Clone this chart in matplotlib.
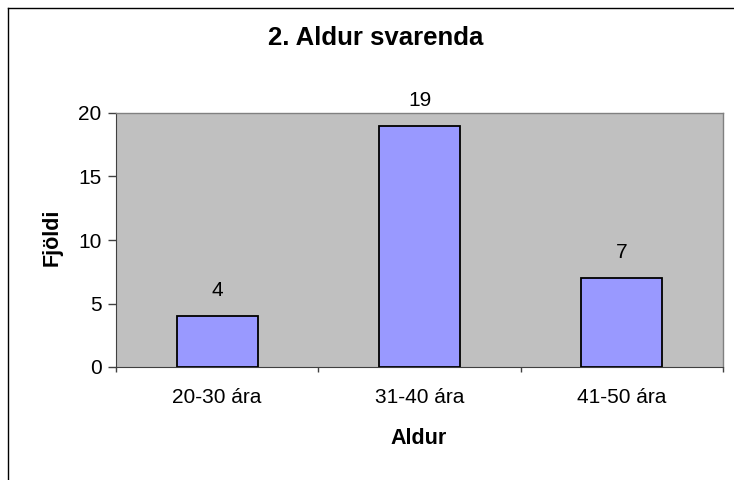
import matplotlib
matplotlib.use('Agg')
import matplotlib.pyplot as plt
from matplotlib.lines import Line2D

categories = ['20-30 ára', '31-40 ára', '41-50 ára']
counts = [4, 19, 7]
yticks = [0, 5, 10, 15, 20]

plt.rcParams['font.family'] = ['Liberation Sans', 'DejaVu Sans']

W, H = 734, 480
fig = plt.figure(figsize=(W / 100, H / 100), dpi=100)
fig.patch.set_facecolor('white')

# plot area in pixels: left 116, right 723, top 113, bottom 367
ax = fig.add_axes([116 / W, (H - 367) / H, (723 - 116) / W, (367 - 113) / H])
ax.set_facecolor('#c0c0c0')

x = list(range(len(categories)))
ax.bar(x, counts, width=0.4, color='#9999ff', edgecolor='black', linewidth=1.3, zorder=3)
for xi, v in zip(x, counts):
    ax.annotate(str(v), (xi, v), xytext=(0, 18.5), textcoords='offset points',
                ha='center', va='center', fontsize=15)

ax.set_xlim(-0.5, len(categories) - 0.5)
ax.set_ylim(0, 20)
ax.set_yticks(yticks)
ax.set_xticks(x)
ax.set_xticklabels(categories)
ax.set_xticks([i - 0.5 for i in range(len(categories) + 1)], minor=True)
ax.tick_params(axis='x', which='major', length=0, pad=15, labelsize=15)
ax.tick_params(axis='x', which='minor', length=3.6, width=1, direction='out', color='#404040')
ax.tick_params(axis='y', length=5.5, width=1, direction='out', pad=5, labelsize=15, color='#404040')

for s in ['top', 'right']:
    ax.spines[s].set_color('#808080')
    ax.spines[s].set_linewidth(1)
ax.spines['left'].set_color('#404040')
ax.spines['bottom'].set_color('#404040')

fig.text(419 / W, 1 - 439 / H, 'Aldur', ha='center', va='center',
         fontsize=15.5, fontweight='bold')
fig.text(52 / W, 1 - 237 / H, 'Fjöldi', ha='center', va='center', rotation=90,
         fontsize=15.5, fontweight='bold')
fig.text(376 / W, 1 - 38 / H, '2. Aldur svarenda', ha='center', va='center',
         fontsize=18.5, fontweight='bold')

# outer chart frame (left and top edges visible)
fig.add_artist(Line2D([7.5 / W, 7.5 / W], [0, 1 - 7.5 / H], transform=fig.transFigure,
                      color='black', linewidth=1))
fig.add_artist(Line2D([7.5 / W, 1], [1 - 7.5 / H, 1 - 7.5 / H], transform=fig.transFigure,
                      color='black', linewidth=1))

fig.savefig('out.png', dpi=100)
